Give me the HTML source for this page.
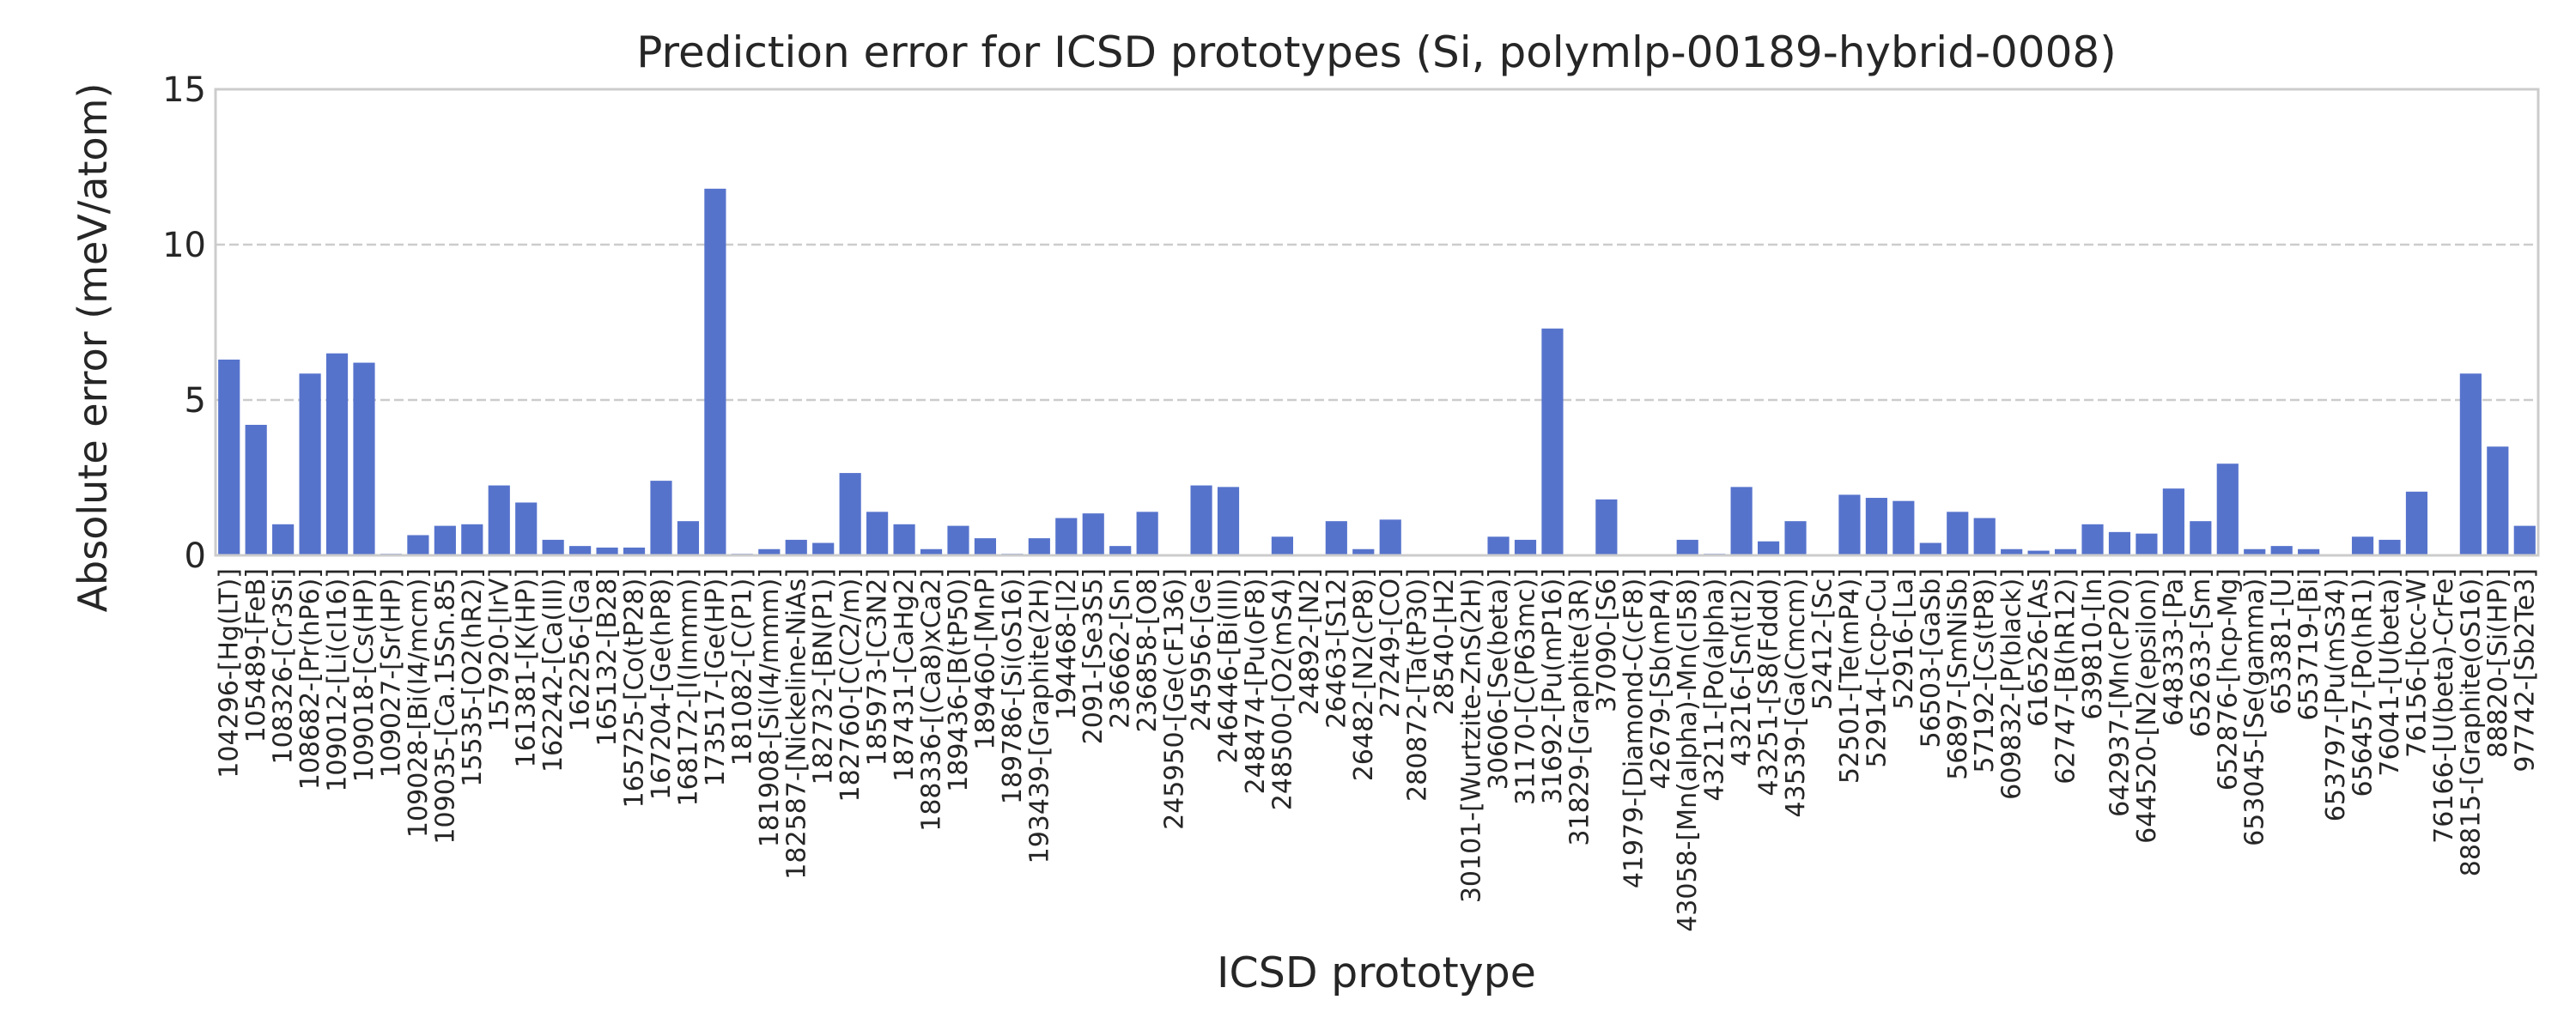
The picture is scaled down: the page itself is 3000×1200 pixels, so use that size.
<!DOCTYPE html>
<html><head><meta charset="utf-8"><style>
html,body{margin:0;padding:0;background:#fff;}
svg{display:block;font-family:"DejaVu Sans","Liberation Sans",sans-serif;}
</style></head><body>
<svg id="chart" width="3000" height="1200" viewBox="0 0 3000 1200" xmlns="http://www.w3.org/2000/svg">
<rect x="0" y="0" width="3000" height="1200" fill="#ffffff"/>
<g id="grid"></g>
<g id="bars"></g>
<rect x="251" y="104" width="2705" height="543" fill="none" stroke="#cccccc" stroke-width="3"/>
<g id="yticks"></g>
<g id="xticks"></g>
<text x="1603" y="78" text-anchor="middle" font-size="50" fill="#262626">Prediction error for ICSD prototypes (Si, polymlp-00189-hybrid-0008)</text>
<text transform="translate(124,405) rotate(-90)" text-anchor="middle" font-size="46" fill="#262626">Absolute error (meV/atom)</text>
<text x="1603" y="1150" text-anchor="middle" font-size="49" fill="#262626">ICSD prototype</text>
</svg>
<script>
const categories = ["104296-[Hg(LT)]","105489-[FeB]","108326-[Cr3Si]","108682-[Pr(hP6)]","109012-[Li(cI16)]","109018-[Cs(HP)]","109027-[Sr(HP)]","109028-[Bi(I4/mcm)]","109035-[Ca.15Sn.85]","15535-[O2(hR2)]","157920-[IrV]","161381-[K(HP)]","162242-[Ca(III)]","162256-[Ga]","165132-[B28]","165725-[Co(tP28)]","167204-[Ge(hP8)]","168172-[I(Immm)]","173517-[Ge(HP)]","181082-[C(P1)]","181908-[Si(I4/mmm)]","182587-[Nickeline-NiAs]","182732-[BN(P1)]","182760-[C(C2/m)]","185973-[C3N2]","187431-[CaHg2]","188336-[(Ca8)xCa2]","189436-[B(tP50)]","189460-[MnP]","189786-[Si(oS16)]","193439-[Graphite(2H)]","194468-[I2]","2091-[Se3S5]","236662-[Sn]","236858-[O8]","245950-[Ge(cF136)]","245956-[Ge]","246446-[Bi(III)]","248474-[Pu(oF8)]","248500-[O2(mS4)]","24892-[N2]","26463-[S12]","26482-[N2(cP8)]","27249-[CO]","280872-[Ta(tP30)]","28540-[H2]","30101-[Wurtzite-ZnS(2H)]","30606-[Se(beta)]","31170-[C(P63mc)]","31692-[Pu(mP16)]","31829-[Graphite(3R)]","37090-[S6]","41979-[Diamond-C(cF8)]","42679-[Sb(mP4)]","43058-[Mn(alpha)-Mn(cI58)]","43211-[Po(alpha)]","43216-[Sn(tI2)]","43251-[S8(Fddd)]","43539-[Ga(Cmcm)]","52412-[Sc]","52501-[Te(mP4)]","52914-[ccp-Cu]","52916-[La]","56503-[GaSb]","56897-[SmNiSb]","57192-[Cs(tP8)]","609832-[P(black)]","616526-[As]","62747-[B(hR12)]","639810-[In]","642937-[Mn(cP20)]","644520-[N2(epsilon)]","648333-[Pa]","652633-[Sm]","652876-[hcp-Mg]","653045-[Se(gamma)]","653381-[U]","653719-[Bi]","653797-[Pu(mS34)]","656457-[Po(hR1)]","76041-[U(beta)]","76156-[bcc-W]","76166-[U(beta)-CrFe]","88815-[Graphite(oS16)]","88820-[Si(HP)]","97742-[Sb2Te3]"];
const errors = [6.3,4.2,1.0,5.85,6.5,6.2,0.05,0.65,0.95,1.0,2.25,1.7,0.5,0.3,0.25,0.25,2.4,1.1,11.8,0.05,0.2,0.5,0.4,2.65,1.4,1.0,0.2,0.95,0.55,0.05,0.55,1.2,1.35,0.3,1.4,0.0,2.25,2.2,0.0,0.6,0.0,1.1,0.2,1.15,0.02,0.02,0.0,0.6,0.5,7.3,0.0,1.8,0.0,0.0,0.5,0.05,2.2,0.45,1.1,0.0,1.95,1.85,1.75,0.4,1.4,1.2,0.2,0.15,0.2,1.0,0.75,0.7,2.15,1.1,2.95,0.2,0.3,0.2,0.0,0.6,0.5,2.05,0.0,5.85,3.5,0.95];
const yTicks = [0,5,10,15];
const yTickLabels = ["0","5","10","15"];

const NS = "http://www.w3.org/2000/svg";
const X0 = 251, X1 = 2956, Y0 = 647, Y1 = 104, YMAX = 15;
const band = (X1 - X0) / categories.length;
function xScale(i){ return X0 + band * i; }
function yScale(v){ return Y0 - (v / YMAX) * (Y0 - Y1); }

const grid = document.getElementById('grid');
const yt = document.getElementById('yticks');
yTicks.forEach((t, k) => {
  if (t > 0 && t < YMAX) {
    const l = document.createElementNS(NS, 'line');
    
    
    l.setAttribute('x1', X0); l.setAttribute('x2', X1);
    l.setAttribute('y1', yScale(t)); l.setAttribute('y2', yScale(t));
    l.setAttribute('stroke', '#cccccc'); l.setAttribute('stroke-width', '2.5');
    l.setAttribute('stroke-dasharray', '11 5');
    grid.appendChild(l);
  }
  const tx = document.createElementNS(NS, 'text');
  
  
  tx.setAttribute('x', 240); tx.setAttribute('y', yScale(t) + 14);
  tx.setAttribute('text-anchor', 'end'); tx.setAttribute('font-size', '40');
  tx.setAttribute('fill', '#262626');
  tx.textContent = yTickLabels[k];
  yt.appendChild(tx);
});

const bars = document.getElementById('bars');
const xt = document.getElementById('xticks');
categories.forEach((c, i) => {
  const v = errors[i];
  const bw = band * 0.8;
  const r = document.createElementNS(NS, 'rect');
  
  
  r.setAttribute('x', xScale(i) + band * 0.1);
  r.setAttribute('y', yScale(v));
  r.setAttribute('width', bw);
  r.setAttribute('height', Math.max(0, Y0 - yScale(v)));
  r.setAttribute('fill', '#5673cc');
  bars.appendChild(r);
  const cx = xScale(i) + band / 2;
  const t = document.createElementNS(NS, 'text');
  
  
  t.setAttribute('transform', 'translate(' + (cx + 10) + ',662) rotate(-90)');
  t.setAttribute('text-anchor', 'end');
  t.setAttribute('font-size', '30');
  t.setAttribute('fill', '#262626');
  t.textContent = c;
  xt.appendChild(t);
});
</script>
</body></html>
